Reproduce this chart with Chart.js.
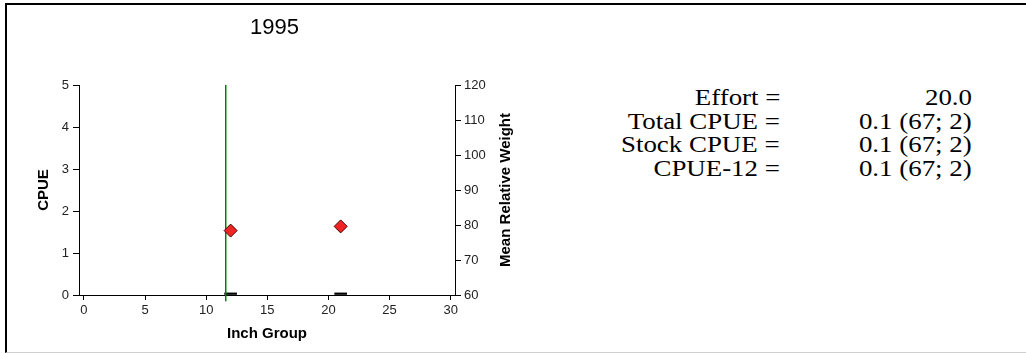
<!DOCTYPE html>
<html>
<head>
<meta charset="utf-8">
<script src="https://cdn.jsdelivr.net/npm/chart.js@4/dist/chart.umd.min.js"></script>
<style>
  body { margin: 0; background: #fff; width: 1026px; height: 354px; overflow: hidden; position: relative; }
  #frame { position: absolute; left: 5px; top: 3px; width: 1030px; height: 347px;
           border-left: 2px solid #000; border-top: 2px solid #000; border-bottom: 1px solid #d0d0d0; }
  #myChart { position: absolute; left: 0; top: 0; }
  #stats { position: absolute; left: 560px; top: 86px; width: 412px;
           font-family: "Times New Roman", "Liberation Serif", serif; font-size: 24px; color: #000; }
  #stats .row { position: relative; height: 23.5px; line-height: 23.5px; white-space: nowrap; }
  #stats span { position: absolute; top: 0; transform: scaleX(1.12); transform-origin: right center; }
  #stats .lab { right: 192px; }
  #stats .val { right: 0; }
</style>
</head>
<body>
<div id="frame"></div>
<canvas id="myChart" width="530" height="354"></canvas>
<div id="stats"></div>
<script>
var chartTitle = "1995";
var inchGroups = [12, 21];
var cpue = [0.05, 0.05];
var relWeight = [78.4, 79.6];
var refLength = 11.6;
var refLineSpan = [-0.15, 5];
var xTicks = [0, 5, 10, 15, 20, 25, 30];
var cpueTicks = [0, 1, 2, 3, 4, 5];
var wrTicks = [60, 70, 80, 90, 100, 110, 120];
var statLabels = ["Effort =", "Total CPUE =", "Stock CPUE =", "CPUE-12 ="];
var statValues = ["20.0", "0.1 (67; 2)", "0.1 (67; 2)", "0.1 (67; 2)"];

var stats = document.getElementById("stats");
for (var i = 0; i < statLabels.length; i++) {
  var row = document.createElement("div");
  row.className = "row";
  row.innerHTML = '<span class="lab"></span><span class="val"></span>';
  row.children[0].textContent = statLabels[i];
  row.children[1].textContent = statValues[i];
  stats.appendChild(row);
}

var sans = "Arial, 'Liberation Sans', sans-serif";
var tickFont = { family: sans, size: 13 };
var axisTitleFont = { family: sans, size: 15, weight: "bold" };

function fixedTicks(list) {
  return function (scale) {
    scale.ticks = list.map(function (v) { return { value: v }; });
  };
}

function axisGrid(len) {
  return { drawOnChartArea: false, drawTicks: true, tickLength: len, color: "#000", offset: false };
}

// right axis title reads bottom-to-top like the left one
var rightTitle = {
  id: "rightTitle",
  afterDraw: function (chart) {
    var s = chart.scales.y2, c = chart.ctx;
    c.save();
    c.translate(s.right - 8, (s.top + s.bottom) / 2);
    c.rotate(-Math.PI / 2);
    c.font = "bold 15px " + sans;
    c.fillStyle = "#000";
    c.textAlign = "center";
    c.textBaseline = "middle";
    c.fillText("Mean Relative Weight", 0, 0);
    c.restore();
  }
};

var ctx = document.getElementById("myChart");

var myChart = new Chart(ctx, {
  type: "bar",
  plugins: [rightTitle],
  data: {
    datasets: [
      {
        type: "scatter",
        data: inchGroups.map(function (x, i) { return { x: x, y: relWeight[i] }; }),
        yAxisID: "y2",
        pointStyle: "rectRot",
        pointRadius: 6.5,
        backgroundColor: "#f02424",
        borderColor: "#4a0000",
        borderWidth: 1,
        order: 0
      },
      {
        type: "line",
        data: refLineSpan.map(function (y) { return { x: refLength, y: y }; }),
        yAxisID: "y",
        borderColor: "#008000",
        borderWidth: 1.5,
        pointRadius: 0,
        clip: false,
        order: 1
      },
      {
        type: "bar",
        data: inchGroups.map(function (x, i) { return { x: x, y: cpue[i] }; }),
        yAxisID: "y",
        backgroundColor: "#000",
        barThickness: 12,
        order: 2
      }
    ]
  },
  options: {
    responsive: false,
    animation: false,
    devicePixelRatio: 1,
    layout: { padding: { left: 35, right: 16, top: 0, bottom: 11 } },
    plugins: {
      legend: { display: false },
      tooltip: { enabled: false },
      title: {
        display: true,
        text: chartTitle,
        color: "#000",
        font: { family: sans, size: 22, weight: "normal", lineHeight: 1.2 },
        padding: { top: 15, bottom: 43.6 }
      }
    },
    scales: {
      x: {
        type: "linear",
        min: -0.4,
        max: 30.35,
        offset: false,
        afterBuildTicks: fixedTicks(xTicks),
        afterFit: function (s) { s.height = 48; },
        grid: axisGrid(5),
        border: { display: true, color: "#000", width: 1 },
        ticks: { font: tickFont, color: "#222", padding: 3, maxRotation: 0 },
        title: { display: true, text: "Inch Group", font: axisTitleFont, color: "#000", padding: 0 }
      },
      y: {
        position: "left",
        min: 0,
        max: 5,
        afterBuildTicks: fixedTicks(cpueTicks),
        afterFit: function (s) { s.width = 44; },
        grid: axisGrid(6),
        border: { display: true, color: "#000", width: 1 },
        ticks: { font: tickFont, color: "#222", padding: 4 },
        title: { display: true, text: "CPUE", font: axisTitleFont, color: "#000", padding: 0 }
      },
      y2: {
        position: "right",
        min: 60,
        max: 120,
        afterBuildTicks: fixedTicks(wrTicks),
        afterFit: function (s) { s.width = 59; },
        grid: axisGrid(6),
        border: { display: true, color: "#000", width: 1 },
        ticks: { font: tickFont, color: "#222", padding: 3 },
        title: { display: false }
      }
    }
  }
});
</script>
</body>
</html>
